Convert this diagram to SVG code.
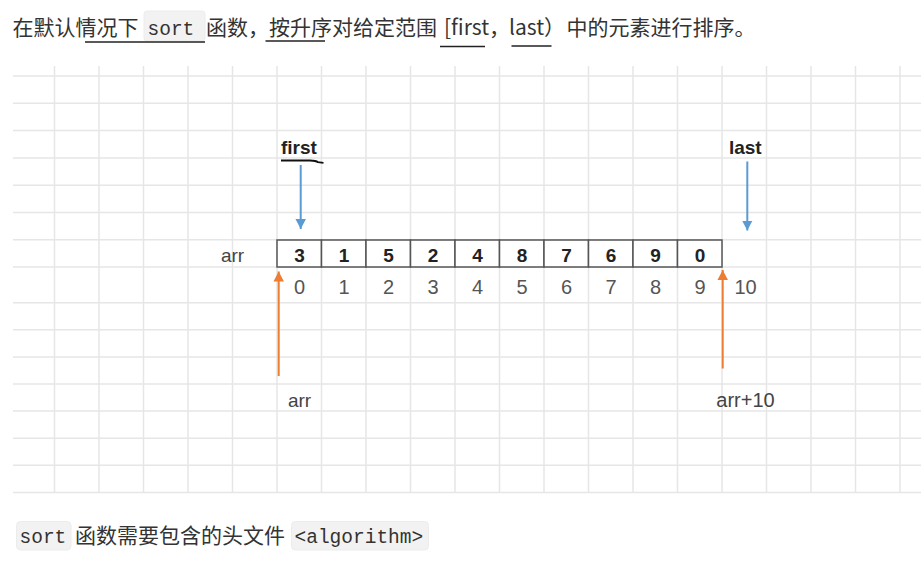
<svg xmlns="http://www.w3.org/2000/svg" width="921" height="567" viewBox="0 0 921 567">
<defs>
<style>
.grid line{stroke:#e6e6e6;stroke-width:1.5}
.cjk{font-family:"Noto Sans CJK SC","Noto Sans",sans-serif;font-size:21px;fill:#333}
.code{font-family:"Liberation Mono","DejaVu Sans Mono",monospace;font-size:19.5px;fill:#333}
.codebg{fill:#f2f2f2;stroke:#ececec;stroke-width:1}
.ul{stroke:#222;stroke-width:1.6}
.cell{fill:#fff;stroke:#555;stroke-width:1.5}
.val{font-family:"Liberation Sans",Arial,sans-serif;font-size:19px;font-weight:bold;fill:#222;text-anchor:middle}
.idx{font-family:"Liberation Sans",Arial,sans-serif;font-size:20px;fill:#555;text-anchor:middle}
.lbl{font-family:"Liberation Sans",Arial,sans-serif;font-size:19px;fill:#444;text-anchor:middle}
.ptr{font-family:"Liberation Sans",Arial,sans-serif;font-size:19px;font-weight:bold;fill:#222}
.blue{stroke:#5b9bd5;stroke-width:2;fill:none;marker-end:url(#hb)}
.orange{stroke:#ed7d31;stroke-width:2;fill:none;marker-end:url(#ho)}
</style>
<marker id="hb" markerUnits="userSpaceOnUse" markerWidth="11" markerHeight="11" refX="10" refY="5.25" orient="auto"><path d="M0,0 L10,5.25 L0,10.5 z" fill="#5b9bd5"/></marker>
<marker id="ho" markerUnits="userSpaceOnUse" markerWidth="11" markerHeight="11" refX="10" refY="5.25" orient="auto"><path d="M0,0 L10,5.25 L0,10.5 z" fill="#ed7d31"/></marker>
</defs>
<rect width="921" height="567" fill="#fff"/>

<g id="title">
<rect class="codebg" x="144" y="11" width="61" height="30" rx="3"/>
<text class="cjk" x="12.5" y="35">在默认情况下</text>
<text class="code" x="147.5" y="35">sort</text>
<text class="cjk" x="206" y="35">函数，按升序对给定范围</text>
<text class="cjk" x="444" y="35">[first，</text>
<text class="cjk" x="509" y="35">last）</text>
<text class="cjk" x="566.5" y="35">中的元素进行排序。</text>
<line class="ul" x1="85" y1="42" x2="205" y2="42"/>
<line class="ul" x1="265.5" y1="41" x2="325" y2="41"/>
<line class="ul" x1="440" y1="46.5" x2="485" y2="46.5"/>
<line class="ul" x1="511.5" y1="46" x2="551.5" y2="46"/>
</g>

<g class="grid" id="grid">
<line x1="54.5" y1="66" x2="54.5" y2="492.4"/>
<line x1="99" y1="66" x2="99" y2="492.4"/>
<line x1="143.5" y1="66" x2="143.5" y2="492.4"/>
<line x1="188" y1="66" x2="188" y2="492.4"/>
<line x1="232.5" y1="66" x2="232.5" y2="492.4"/>
<line x1="277" y1="66" x2="277" y2="492.4"/>
<line x1="321.5" y1="66" x2="321.5" y2="492.4"/>
<line x1="366" y1="66" x2="366" y2="492.4"/>
<line x1="410.5" y1="66" x2="410.5" y2="492.4"/>
<line x1="455" y1="66" x2="455" y2="492.4"/>
<line x1="499.5" y1="66" x2="499.5" y2="492.4"/>
<line x1="544" y1="66" x2="544" y2="492.4"/>
<line x1="588.5" y1="66" x2="588.5" y2="492.4"/>
<line x1="633" y1="66" x2="633" y2="492.4"/>
<line x1="677.5" y1="66" x2="677.5" y2="492.4"/>
<line x1="722" y1="66" x2="722" y2="492.4"/>
<line x1="766.5" y1="66" x2="766.5" y2="492.4"/>
<line x1="811" y1="66" x2="811" y2="492.4"/>
<line x1="855.5" y1="66" x2="855.5" y2="492.4"/>
<line x1="900" y1="66" x2="900" y2="492.4"/>
<line x1="13" y1="76" x2="921" y2="76"/>
<line x1="13" y1="103.3" x2="921" y2="103.3"/>
<line x1="13" y1="130.6" x2="921" y2="130.6"/>
<line x1="13" y1="157.9" x2="921" y2="157.9"/>
<line x1="13" y1="185.2" x2="921" y2="185.2"/>
<line x1="13" y1="212.5" x2="921" y2="212.5"/>
<line x1="13" y1="239.8" x2="921" y2="239.8"/>
<line x1="13" y1="267.1" x2="921" y2="267.1"/>
<line x1="13" y1="302.7" x2="921" y2="302.7"/>
<line x1="13" y1="329.8" x2="921" y2="329.8"/>
<line x1="13" y1="356.9" x2="921" y2="356.9"/>
<line x1="13" y1="384" x2="921" y2="384"/>
<line x1="13" y1="411.1" x2="921" y2="411.1"/>
<line x1="13" y1="438.2" x2="921" y2="438.2"/>
<line x1="13" y1="465.3" x2="921" y2="465.3"/>
<line x1="13" y1="492.4" x2="921" y2="492.4"/>
</g>

<g id="array">
<rect class="cell" x="277" y="240" width="44.5" height="27"/>
<rect class="cell" x="321.5" y="240" width="44.5" height="27"/>
<rect class="cell" x="366" y="240" width="44.5" height="27"/>
<rect class="cell" x="410.5" y="240" width="44.5" height="27"/>
<rect class="cell" x="455" y="240" width="44.5" height="27"/>
<rect class="cell" x="499.5" y="240" width="44.5" height="27"/>
<rect class="cell" x="544" y="240" width="44.5" height="27"/>
<rect class="cell" x="588.5" y="240" width="44.5" height="27"/>
<rect class="cell" x="633" y="240" width="44.5" height="27"/>
<rect class="cell" x="677.5" y="240" width="44.5" height="27"/>
<text class="val" x="299.5" y="261.5">3</text>
<text class="val" x="344" y="261.5">1</text>
<text class="val" x="388.5" y="261.5">5</text>
<text class="val" x="433" y="261.5">2</text>
<text class="val" x="477.5" y="261.5">4</text>
<text class="val" x="522" y="261.5">8</text>
<text class="val" x="566.5" y="261.5">7</text>
<text class="val" x="611" y="261.5">6</text>
<text class="val" x="655.5" y="261.5">9</text>
<text class="val" x="700" y="261.5">0</text>
</g>

<g id="indices">
<text class="idx" x="299.5" y="294">0</text>
<text class="idx" x="344" y="294">1</text>
<text class="idx" x="388.5" y="294">2</text>
<text class="idx" x="433" y="294">3</text>
<text class="idx" x="477.5" y="294">4</text>
<text class="idx" x="522" y="294">5</text>
<text class="idx" x="566.5" y="294">6</text>
<text class="idx" x="611" y="294">7</text>
<text class="idx" x="655.5" y="294">8</text>
<text class="idx" x="700" y="294">9</text>
<text class="idx" x="745.5" y="294">10</text>
</g>

<g id="arr-label"><text class="lbl" x="232.5" y="262">arr</text></g>
<g id="first-label">
<text class="ptr" x="281" y="154">first</text>
<path d="M281,160.5 L310,160.5 Q316,160.6 318,162.2 L323.5,162.8" fill="none" stroke="#111" stroke-width="1.8"/>
</g>
<g id="last-label"><text class="ptr" x="745.3" y="154" text-anchor="middle">last</text></g>
<g id="arr-ptr"><text class="lbl" x="299.5" y="406.5">arr</text></g>
<g id="arr10-ptr"><text class="lbl" x="745.5" y="406.5" style="font-size:20px">arr+10</text></g>

<g id="connectors">
<line class="blue" x1="300.7" y1="165" x2="300.7" y2="229"/>
<line class="blue" x1="747.3" y1="161.5" x2="747.3" y2="230.5"/>
<line class="orange" x1="278.7" y1="376" x2="278.7" y2="271.5"/>
<line class="orange" x1="722.7" y1="368.5" x2="722.7" y2="270"/>
</g>

<g id="footer">
<rect class="codebg" x="16.5" y="521.5" width="54.5" height="28.5" rx="4"/>
<text class="code" x="19.5" y="543">sort</text>
<text class="cjk" x="75" y="543">函数需要包含的头文件</text>
<rect class="codebg" x="291.5" y="521.5" width="137" height="28.5" rx="4"/>
<text class="code" x="294.5" y="543">&lt;algorithm&gt;</text>
</g>
</svg>
